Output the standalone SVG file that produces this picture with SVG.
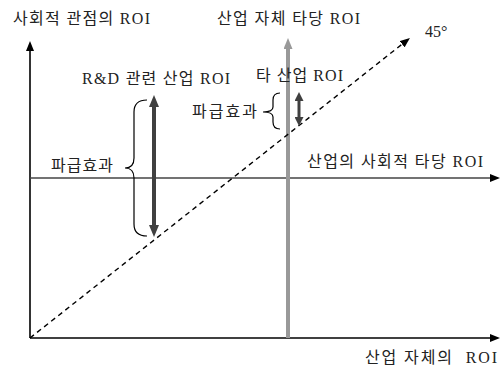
<svg xmlns="http://www.w3.org/2000/svg" width="501" height="368" viewBox="0 0 501 368">
<style>
text{font-family:"Liberation Serif","Noto Sans CJK KR",serif;font-size:16px;fill:#222}
.ax{stroke:#000;stroke-width:1.6;fill:none}
.brace{stroke:#000;stroke-width:1.2;fill:none}
</style>
<defs>
<marker id="ah" markerUnits="userSpaceOnUse" markerWidth="10" markerHeight="8" refX="0" refY="4" orient="auto"><path d="M0,0L10,4L0,8z" fill="#000"/></marker>
<marker id="ahg" markerUnits="userSpaceOnUse" markerWidth="11" markerHeight="9" refX="0" refY="4.5" orient="auto"><path d="M0,0L11,4.5L0,9z" fill="#999"/></marker>
<marker id="ahd" markerUnits="userSpaceOnUse" markerWidth="12" markerHeight="10" refX="0" refY="5" orient="auto-start-reverse"><path d="M0,0L12,5L0,10z" fill="#404040"/></marker>
<marker id="ahs" markerUnits="userSpaceOnUse" markerWidth="9" markerHeight="9" refX="0" refY="4.5" orient="auto-start-reverse"><path d="M0,0L9,4.5L0,9z" fill="#404040"/></marker>
</defs>
<g id="connectors">
<line class="ax" x1="30" y1="338" x2="30" y2="51" marker-end="url(#ah)"/>
<line class="ax" x1="30" y1="338" x2="490" y2="338" marker-end="url(#ah)"/>
<line x1="30" y1="178" x2="490" y2="178" stroke="#444" stroke-width="1.6" marker-end="url(#ah)"/>
<line x1="288" y1="338" x2="288" y2="49" stroke="#999" stroke-width="4" marker-end="url(#ahg)"/>
<line x1="30" y1="338" x2="402.1" y2="44.2" stroke="#000" stroke-width="1.4" stroke-dasharray="5,4" marker-end="url(#ah)"/>
<line x1="154" y1="107" x2="154" y2="225" stroke="#404040" stroke-width="4" marker-start="url(#ahd)" marker-end="url(#ahd)"/>
<line x1="299" y1="101" x2="299" y2="117" stroke="#404040" stroke-width="3" marker-start="url(#ahs)" marker-end="url(#ahs)"/>
<path class="brace" d="M147,100 Q134,100 134,112 L134,158 Q134,168 125,168 Q134,168 134,178 L134,224 Q134,236 147,236"/>
<path class="brace" d="M280,93 Q273,93 273,100 L273,107 Q273,112 263,112 Q273,112 273,117 L273,122 Q273,129 280,129"/>
</g>
<g id="label-y"><text x="13" y="24" textLength="137" lengthAdjust="spacing">사회적 관점의 ROI</text></g>
<g id="label-gray"><text x="217" y="24" textLength="143" lengthAdjust="spacing">산업 자체 타당 ROI</text></g>
<g id="label-45"><text x="425" y="37">45°</text></g>
<g id="label-rd"><text x="82" y="84" textLength="148" lengthAdjust="spacing">R&amp;D 관련 산업 ROI</text></g>
<g id="label-other"><text x="256" y="81" textLength="87" lengthAdjust="spacing">타 산업 ROI</text></g>
<g id="label-spill-small"><text x="192" y="117" textLength="65" lengthAdjust="spacing">파급효과</text></g>
<g id="label-spill-big"><text x="51" y="171" textLength="62" lengthAdjust="spacing">파급효과</text></g>
<g id="label-social"><text x="307" y="167" textLength="176" lengthAdjust="spacing">산업의 사회적 타당 ROI</text></g>
<g id="label-x"><text x="365" y="363" textLength="132" lengthAdjust="spacing" xml:space="preserve">산업 자체의  ROI</text></g>
</svg>
